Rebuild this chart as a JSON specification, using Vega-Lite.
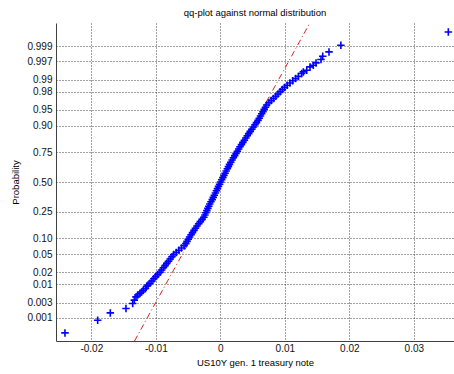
{
  "$schema": "https://vega.github.io/schema/vega-lite/v6.json",
  "width": 398,
  "height": 318,
  "autosize": {"type": "none"},
  "padding": {"left": 56, "top": 23, "right": 0, "bottom": 33},
  "background": "white",
  "config": {
    "view": {"stroke": null},
    "font": "Liberation Sans",
    "axis": {
      "labelFont": "Liberation Sans",
      "labelFontSize": 10,
      "labelColor": "#111111",
      "titleFont": "Liberation Sans",
      "titleFontSize": 9.5,
      "titleFontWeight": "normal",
      "titleColor": "#000000",
      "domainColor": "#404040",
      "ticks": false,
      "grid": true,
      "gridColor": "#222222",
      "gridDash": [1, 2],
      "gridOpacity": 0.85
    }
  },
  "title": {
    "text": "qq-plot against normal distribution",
    "font": "Liberation Sans",
    "fontSize": 9.5,
    "fontWeight": "normal",
    "color": "#000000",
    "anchor": "middle",
    "offset": 6
  },
  "datasets": {
    "pts": [
      {"x": -0.02408, "z": -3.430},
      {"x": -0.01901, "z": -3.141},
      {"x": -0.01705, "z": -2.975},
      {"x": -0.01462, "z": -2.875},
      {"x": -0.01358, "z": -2.761},
      {"x": -0.01333, "z": -2.686},
      {"x": -0.01307, "z": -2.611},
      {"x": -0.01280, "z": -2.570},
      {"x": -0.01245, "z": -2.534},
      {"x": -0.01220, "z": -2.500},
      {"x": -0.01194, "z": -2.459},
      {"x": -0.01160, "z": -2.420},
      {"x": -0.01141, "z": -2.368},
      {"x": -0.01120, "z": -2.340},
      {"x": -0.01090, "z": -2.30},
      {"x": -0.01060, "z": -2.25},
      {"x": -0.01030, "z": -2.20},
      {"x": -0.01000, "z": -2.15},
      {"x": -0.00968, "z": -2.10},
      {"x": -0.00935, "z": -2.05},
      {"x": -0.00909, "z": -2.00},
      {"x": -0.00882, "z": -1.95},
      {"x": -0.00856, "z": -1.90},
      {"x": -0.00830, "z": -1.85},
      {"x": -0.00803, "z": -1.80},
      {"x": -0.00776, "z": -1.75},
      {"x": -0.00749, "z": -1.70},
      {"x": -0.00722, "z": -1.65},
      {"x": -0.00682, "z": -1.60},
      {"x": -0.00642, "z": -1.55},
      {"x": -0.00602, "z": -1.50},
      {"x": -0.00562, "z": -1.45},
      {"x": -0.00534, "z": -1.40},
      {"x": -0.00516, "z": -1.35},
      {"x": -0.00497, "z": -1.30},
      {"x": -0.00476, "z": -1.25},
      {"x": -0.00453, "z": -1.20},
      {"x": -0.00431, "z": -1.15},
      {"x": -0.00408, "z": -1.10},
      {"x": -0.00385, "z": -1.05},
      {"x": -0.00362, "z": -1.00},
      {"x": -0.00335, "z": -0.95},
      {"x": -0.00309, "z": -0.90},
      {"x": -0.00282, "z": -0.85},
      {"x": -0.00255, "z": -0.80},
      {"x": -0.00238, "z": -0.75},
      {"x": -0.00224, "z": -0.70},
      {"x": -0.00209, "z": -0.65},
      {"x": -0.00193, "z": -0.60},
      {"x": -0.00178, "z": -0.55},
      {"x": -0.00163, "z": -0.50},
      {"x": -0.00145, "z": -0.45},
      {"x": -0.00125, "z": -0.40},
      {"x": -0.00109, "z": -0.35},
      {"x": -0.00093, "z": -0.30},
      {"x": -0.00076, "z": -0.25},
      {"x": -0.00060, "z": -0.20},
      {"x": -0.00044, "z": -0.15},
      {"x": -0.00028, "z": -0.10},
      {"x": -0.00011, "z": -0.05},
      {"x": 0.00005, "z": 0.00},
      {"x": 0.00022, "z": 0.05},
      {"x": 0.00040, "z": 0.10},
      {"x": 0.00057, "z": 0.15},
      {"x": 0.00074, "z": 0.20},
      {"x": 0.00091, "z": 0.25},
      {"x": 0.00109, "z": 0.30},
      {"x": 0.00126, "z": 0.35},
      {"x": 0.00143, "z": 0.40},
      {"x": 0.00162, "z": 0.45},
      {"x": 0.00183, "z": 0.50},
      {"x": 0.00203, "z": 0.55},
      {"x": 0.00224, "z": 0.60},
      {"x": 0.00244, "z": 0.65},
      {"x": 0.00264, "z": 0.70},
      {"x": 0.00285, "z": 0.75},
      {"x": 0.00305, "z": 0.80},
      {"x": 0.00328, "z": 0.85},
      {"x": 0.00350, "z": 0.90},
      {"x": 0.00373, "z": 0.95},
      {"x": 0.00395, "z": 1.00},
      {"x": 0.00418, "z": 1.05},
      {"x": 0.00440, "z": 1.10},
      {"x": 0.00464, "z": 1.15},
      {"x": 0.00489, "z": 1.20},
      {"x": 0.00513, "z": 1.25},
      {"x": 0.00537, "z": 1.30},
      {"x": 0.00561, "z": 1.35},
      {"x": 0.00585, "z": 1.40},
      {"x": 0.00604, "z": 1.45},
      {"x": 0.00623, "z": 1.50},
      {"x": 0.00642, "z": 1.55},
      {"x": 0.00662, "z": 1.60},
      {"x": 0.00681, "z": 1.65},
      {"x": 0.00700, "z": 1.70},
      {"x": 0.00719, "z": 1.75},
      {"x": 0.00754, "z": 1.80},
      {"x": 0.00789, "z": 1.85},
      {"x": 0.00825, "z": 1.90},
      {"x": 0.00860, "z": 1.95},
      {"x": 0.00894, "z": 2.00},
      {"x": 0.00928, "z": 2.05},
      {"x": 0.00962, "z": 2.10},
      {"x": 0.00996, "z": 2.15},
      {"x": 0.01037, "z": 2.20},
      {"x": 0.01080, "z": 2.25},
      {"x": 0.01123, "z": 2.30},
      {"x": 0.01167, "z": 2.35},
      {"x": 0.01210, "z": 2.40},
      {"x": 0.01262, "z": 2.466},
      {"x": 0.01287, "z": 2.502},
      {"x": 0.01340, "z": 2.541},
      {"x": 0.01391, "z": 2.616},
      {"x": 0.01442, "z": 2.655},
      {"x": 0.01484, "z": 2.707},
      {"x": 0.01561, "z": 2.784},
      {"x": 0.01588, "z": 2.859},
      {"x": 0.01685, "z": 2.957},
      {"x": 0.01869, "z": 3.109},
      {"x": 0.03535, "z": 3.411}
    ],
    "ref": [
      {"x": -0.01330, "z": -3.614},
      {"x": 0.01388, "z": 3.614}
    ]
  },
  "encoding": {
    "x": {
      "field": "x",
      "type": "quantitative",
      "scale": {"domain": [-0.02547, 0.03623], "nice": false, "zero": false},
      "axis": {
        "title": "US10Y gen. 1 treasury note",
        "values": [-0.02, -0.01, 0, 0.01, 0.02, 0.03],
        "labelExpr": "datum.value === 0 ? '0' : (datum.value < 0 ? '-' : '') + format(abs(datum.value), '.2f')",
        "labelPadding": 2,
        "titlePadding": 4
      }
    },
    "y": {
      "field": "z",
      "type": "quantitative",
      "scale": {"domain": [-3.614, 3.614], "nice": false, "zero": false},
      "axis": {
        "title": "Probability",
        "values": [-3.090232, -2.747781, -2.326348, -2.053749, -1.644854, -1.281552, -0.67449, 0, 0.67449, 1.281552, 1.644854, 2.053749, 2.326348, 2.747781, 3.090232],
        "labelExpr": "format(cumulativeNormal(datum.value), abs(cumulativeNormal(datum.value) * 100 - round(cumulativeNormal(datum.value) * 100)) < 0.001 ? '.2f' : '.3f')",
        "labelPadding": 4,
        "titlePadding": 6
      }
    }
  },
  "layer": [
    {
      "data": {"name": "ref"},
      "mark": {"type": "line", "color": "#e02020", "strokeWidth": 1, "strokeDash": [6, 3, 1, 3], "clip": true},
      "encoding": {}
    },
    {
      "data": {"name": "pts"},
      "mark": {
        "type": "point",
        "shape": "M-1,0H1M0,-1V1",
        "filled": false,
        "stroke": "#0000ff",
        "strokeWidth": 1.6,
        "size": 56,
        "opacity": 1,
        "clip": true
      },
      "encoding": {}
    }
  ]
}
